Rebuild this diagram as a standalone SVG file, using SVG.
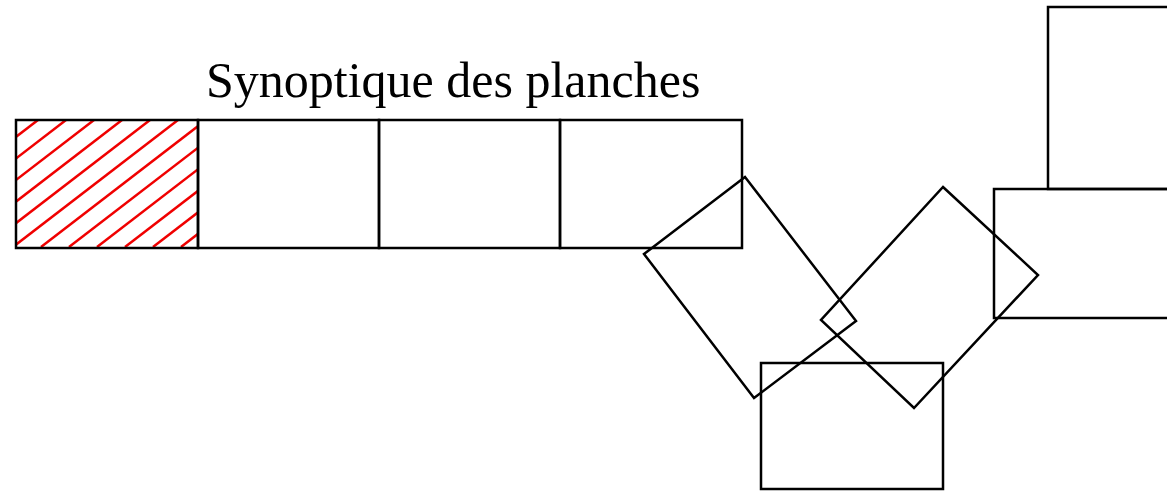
<svg xmlns="http://www.w3.org/2000/svg" width="1167" height="495" viewBox="0 0 1167 495">
<style>
.sh{fill:none;stroke:#000;stroke-width:2.5}
.hatch{stroke:#f00000;stroke-width:2.5}
.title{font-family:"Liberation Serif","Times New Roman",serif;font-size:50px;fill:#000}
</style>
<defs>
<clipPath id="hc"><rect x="16" y="120" width="182" height="128"/></clipPath>
</defs>
<rect width="1167" height="495" fill="#fff"/>
<text class="title" x="206" y="97">Synoptique des planches</text>
<g id="cell1">
<g clip-path="url(#hc)" class="hatch">
<line x1="10" y1="120" x2="-155" y2="247"/>
<line x1="38" y1="120" x2="-127" y2="247"/>
<line x1="66" y1="120" x2="-99" y2="247"/>
<line x1="94" y1="120" x2="-71" y2="247"/>
<line x1="122" y1="120" x2="-43" y2="247"/>
<line x1="150" y1="120" x2="-15" y2="247"/>
<line x1="178" y1="120" x2="13" y2="247"/>
<line x1="206" y1="120" x2="41" y2="247"/>
<line x1="234" y1="120" x2="69" y2="247"/>
<line x1="262" y1="120" x2="97" y2="247"/>
<line x1="290" y1="120" x2="125" y2="247"/>
<line x1="318" y1="120" x2="153" y2="247"/>
<line x1="346" y1="120" x2="181" y2="247"/>
<line x1="374" y1="120" x2="209" y2="247"/>
</g>
<rect class="sh" x="16" y="120" width="182" height="128"/>
</g>
<g id="cell2"><rect class="sh" x="198" y="120" width="181" height="128"/></g>
<g id="cell3"><rect class="sh" x="379" y="120" width="181" height="128"/></g>
<g id="cell4"><rect class="sh" x="560" y="120" width="182" height="128"/></g>
<g id="tilt1"><polygon class="sh" points="745,177 856,321 754,398 644,254"/></g>
<g id="tilt2"><polygon class="sh" points="943,187 1038,275 914,408 821,320"/></g>
<g id="bottom"><rect class="sh" x="761" y="363" width="182" height="126"/></g>
<g id="right-upper"><rect class="sh" x="1048" y="7" width="182" height="182"/></g>
<g id="right-lower"><rect class="sh" x="994" y="189" width="182" height="129"/></g>
<g id="connectors"></g>
</svg>
